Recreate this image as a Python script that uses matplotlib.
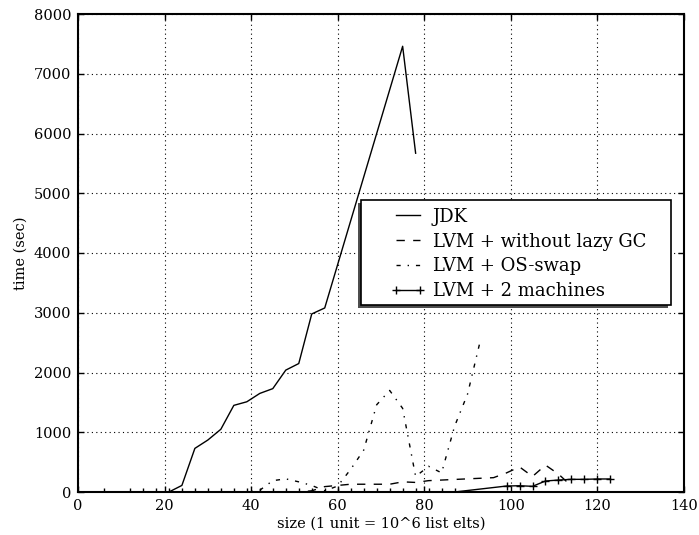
import matplotlib
matplotlib.use("Agg")
import matplotlib.pyplot as plt
from matplotlib.patches import Rectangle

# ---- data ----
jdk_x = [21, 24, 27, 30, 33, 36, 39, 42, 45, 48, 51, 54, 57, 75, 78]
jdk_y = [0, 110, 730, 870, 1050, 1450, 1510, 1650, 1730, 2040, 2150, 2980, 3080, 7460, 5670]

nogc_x = [30, 33, 36, 39, 42, 45, 48, 51, 54, 57, 60, 63, 66, 69, 72, 75, 78, 81, 84, 87,
          90, 93, 96, 99, 102, 105, 108, 111, 114]
nogc_y = [0, 0, 0, 0, 0, 0, 0, 0, 20, 90, 110, 130, 130, 130, 130, 170, 160, 190, 200, 210,
          220, 230, 240, 320, 420, 260, 450, 300, 100]

swap_x = [33, 36, 39, 42, 45, 48, 51, 54, 57, 60, 63, 66, 69, 72, 75, 78, 81, 84, 87, 90, 93]
swap_y = [0, 0, 0, 30, 190, 220, 170, 110, 20, 100, 380, 700, 1460, 1700, 1400, 260, 430,
          320, 1100, 1640, 2550]

two_x = [6, 12, 15, 18, 21, 24, 27, 30, 33, 36, 39, 42, 45, 48, 51, 54, 57, 60, 63, 66, 69,
         72, 75, 78, 81, 84, 87, 99, 102, 105, 108, 111, 114, 117, 120, 123]
two_y = [0] * 27 + [100, 105, 95, 184, 200, 212, 212, 218, 218]

labels = ["JDK", "LVM + without lazy GC", "LVM + OS-swap", "LVM + 2 machines"]
x_ticks = [0, 20, 40, 60, 80, 100, 120, 140]
y_ticks = [0, 1000, 2000, 3000, 4000, 5000, 6000, 7000, 8000]

plt.rcParams['font.family'] = ['DejaVu Serif']

W, H = 699, 535
fig = plt.figure(figsize=(W / 100, H / 100), dpi=100)
ax = fig.add_axes([78 / W, (H - 492) / H, 606 / W, 478 / H])

lw = 1.0
l1, = ax.plot(jdk_x, jdk_y, color='black', lw=lw, linestyle='-')
l2, = ax.plot(nogc_x, nogc_y, color='black', lw=lw, linestyle=(0, (6, 6)))
l3, = ax.plot(swap_x, swap_y, color='black', lw=lw, linestyle=(0, (3, 5, 1, 5)))
l4, = ax.plot(two_x, two_y, color='black', lw=lw, linestyle='-', marker='+',
              markersize=6, markeredgewidth=1.0)

ax.set_xlim(0, 140)
ax.set_ylim(0, 8000)
ax.set_xticks(x_ticks)
ax.set_yticks(y_ticks)
ax.grid(True, color='black', linestyle=(0, (1, 3)), linewidth=0.8)
ax.tick_params(direction='in', length=4, width=1, top=True, right=True,
               labelsize=10.5, pad=5)
for s in ax.spines.values():
    s.set_linewidth(1.5)

ax.set_xlabel("size (1 unit = 10^6 list elts)", fontsize=10.5, labelpad=3)
ax.set_ylabel("time (sec)", fontsize=10.5, labelpad=4)

# legend frame with shadow (figure pixel coords -> fraction)
bx0, bx1, by0, by1 = 361, 671, 200, 305
shadow = Rectangle(((bx0 - 3) / W, (H - by1 - 3) / H), (bx1 - bx0) / W, (by1 - by0) / H,
                   transform=fig.transFigure, facecolor='0.3', edgecolor='none', zorder=9)
box = Rectangle((bx0 / W, (H - by1) / H), (bx1 - bx0) / W, (by1 - by0) / H,
                transform=fig.transFigure, facecolor='white', edgecolor='black',
                linewidth=1.2, zorder=10)
fig.patches.extend([shadow, box])

leg = fig.legend([l1, l2, l3, l4], labels, loc='center left',
                 bbox_to_anchor=(391 / W, 1 - 254 / H), bbox_transform=fig.transFigure,
                 frameon=False, borderpad=0, borderaxespad=0, fontsize=13,
                 handlelength=1.9, handletextpad=0.4, labelspacing=0.38, numpoints=2)
leg.set_zorder(11)

fig.savefig("out.png", dpi=100)
